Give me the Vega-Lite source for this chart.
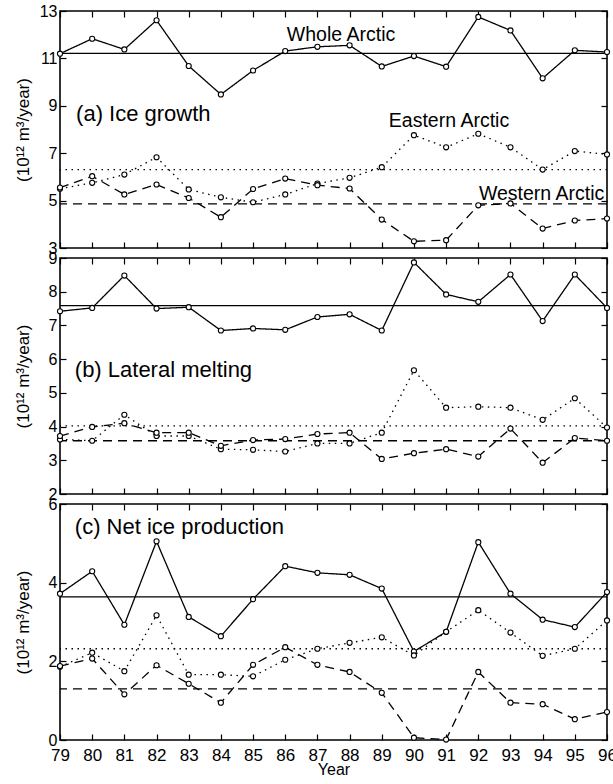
{
  "$schema": "https://vega.github.io/schema/vega-lite/v6.json",
  "background": "white",
  "padding": {"left": 13, "top": 2, "right": 0, "bottom": 0},
  "bounds": "flush",
  "spacing": 10,
  "config": {
    "view": {"stroke": "black", "strokeWidth": 1.6},
    "axis": {
      "domain": false, "grid": false, "tickColor": "black", "tickWidth": 1.2, "tickSize": -6,
      "labelFont": "Liberation Sans", "labelFontSize": 16, "labelColor": "black", "labelPadding": 9,
      "titleFont": "Liberation Sans", "titleFontSize": 17, "titleFontWeight": "normal", "titleColor": "black"
    },
    "axisX": {"labelPadding": 13, "labelFlush": false, "labelFontSize": 17},
    "axisY": {"labelFlush": false},
    "text": {"font": "Liberation Sans"}
  },
  "datasets": {
    "means": [
      {"panel": "a", "series": "Whole", "mean": 11.21},
      {"panel": "a", "series": "Eastern", "mean": 6.31},
      {"panel": "a", "series": "Western", "mean": 4.86},
      {"panel": "b", "series": "Whole", "mean": 7.59},
      {"panel": "b", "series": "Eastern", "mean": 4.02},
      {"panel": "b", "series": "Western", "mean": 3.58},
      {"panel": "c", "series": "Whole", "mean": 3.64},
      {"panel": "c", "series": "Eastern", "mean": 2.32},
      {"panel": "c", "series": "Western", "mean": 1.30}
    ],
    "notes": [
      {"panel": "a", "kind": "panel", "label": "(a) Ice growth", "year": 79.5, "value": 8.64},
      {"panel": "a", "kind": "line", "label": "Whole Arctic", "year": 86.05, "value": 12.0},
      {"panel": "a", "kind": "line", "label": "Eastern Arctic", "year": 89.22, "value": 8.35},
      {"panel": "a", "kind": "line", "label": "Western Arctic", "year": 92.02, "value": 5.28},
      {"panel": "b", "kind": "panel", "label": "(b) Lateral melting", "year": 79.46, "value": 5.68},
      {"panel": "c", "kind": "panel", "label": "(c) Net ice production", "year": 79.46, "value": 5.42}
    ],
    "series": [
      {"panel":"a","series":"Whole","year":79,"value":11.20},{"panel":"a","series":"Whole","year":80,"value":11.83},{"panel":"a","series":"Whole","year":81,"value":11.38},{"panel":"a","series":"Whole","year":82,"value":12.61},{"panel":"a","series":"Whole","year":83,"value":10.68},{"panel":"a","series":"Whole","year":84,"value":9.48},{"panel":"a","series":"Whole","year":85,"value":10.49},{"panel":"a","series":"Whole","year":86,"value":11.31},{"panel":"a","series":"Whole","year":87,"value":11.49},{"panel":"a","series":"Whole","year":88,"value":11.55},{"panel":"a","series":"Whole","year":89,"value":10.66},{"panel":"a","series":"Whole","year":90,"value":11.10},{"panel":"a","series":"Whole","year":91,"value":10.65},{"panel":"a","series":"Whole","year":92,"value":12.75},{"panel":"a","series":"Whole","year":93,"value":12.18},{"panel":"a","series":"Whole","year":94,"value":10.16},{"panel":"a","series":"Whole","year":95,"value":11.34},{"panel":"a","series":"Whole","year":96,"value":11.27},
      {"panel":"a","series":"Eastern","year":79,"value":5.50},{"panel":"a","series":"Eastern","year":80,"value":5.75},{"panel":"a","series":"Eastern","year":81,"value":6.10},{"panel":"a","series":"Eastern","year":82,"value":6.83},{"panel":"a","series":"Eastern","year":83,"value":5.47},{"panel":"a","series":"Eastern","year":84,"value":5.14},{"panel":"a","series":"Eastern","year":85,"value":4.93},{"panel":"a","series":"Eastern","year":86,"value":5.26},{"panel":"a","series":"Eastern","year":87,"value":5.72},{"panel":"a","series":"Eastern","year":88,"value":5.96},{"panel":"a","series":"Eastern","year":89,"value":6.41},{"panel":"a","series":"Eastern","year":90,"value":7.76},{"panel":"a","series":"Eastern","year":91,"value":7.25},{"panel":"a","series":"Eastern","year":92,"value":7.82},{"panel":"a","series":"Eastern","year":93,"value":7.25},{"panel":"a","series":"Eastern","year":94,"value":6.31},{"panel":"a","series":"Eastern","year":95,"value":7.09},{"panel":"a","series":"Eastern","year":96,"value":6.95},
      {"panel":"a","series":"Western","year":79,"value":5.55},{"panel":"a","series":"Western","year":80,"value":6.03},{"panel":"a","series":"Western","year":81,"value":5.26},{"panel":"a","series":"Western","year":82,"value":5.68},{"panel":"a","series":"Western","year":83,"value":5.11},{"panel":"a","series":"Western","year":84,"value":4.30},{"panel":"a","series":"Western","year":85,"value":5.49},{"panel":"a","series":"Western","year":86,"value":5.93},{"panel":"a","series":"Western","year":87,"value":5.65},{"panel":"a","series":"Western","year":88,"value":5.51},{"panel":"a","series":"Western","year":89,"value":4.20},{"panel":"a","series":"Western","year":90,"value":3.28},{"panel":"a","series":"Western","year":91,"value":3.33},{"panel":"a","series":"Western","year":92,"value":4.80},{"panel":"a","series":"Western","year":93,"value":4.88},{"panel":"a","series":"Western","year":94,"value":3.82},{"panel":"a","series":"Western","year":95,"value":4.16},{"panel":"a","series":"Western","year":96,"value":4.24},
      {"panel":"b","series":"Whole","year":79,"value":7.42},{"panel":"b","series":"Whole","year":80,"value":7.52},{"panel":"b","series":"Whole","year":81,"value":8.48},{"panel":"b","series":"Whole","year":82,"value":7.50},{"panel":"b","series":"Whole","year":83,"value":7.54},{"panel":"b","series":"Whole","year":84,"value":6.85},{"panel":"b","series":"Whole","year":85,"value":6.91},{"panel":"b","series":"Whole","year":86,"value":6.87},{"panel":"b","series":"Whole","year":87,"value":7.25},{"panel":"b","series":"Whole","year":88,"value":7.33},{"panel":"b","series":"Whole","year":89,"value":6.85},{"panel":"b","series":"Whole","year":90,"value":8.87},{"panel":"b","series":"Whole","year":91,"value":7.92},{"panel":"b","series":"Whole","year":92,"value":7.70},{"panel":"b","series":"Whole","year":93,"value":8.51},{"panel":"b","series":"Whole","year":94,"value":7.13},{"panel":"b","series":"Whole","year":95,"value":8.51},{"panel":"b","series":"Whole","year":96,"value":7.52},
      {"panel":"b","series":"Eastern","year":79,"value":3.62},{"panel":"b","series":"Eastern","year":80,"value":3.58},{"panel":"b","series":"Eastern","year":81,"value":4.35},{"panel":"b","series":"Eastern","year":82,"value":3.72},{"panel":"b","series":"Eastern","year":83,"value":3.72},{"panel":"b","series":"Eastern","year":84,"value":3.33},{"panel":"b","series":"Eastern","year":85,"value":3.31},{"panel":"b","series":"Eastern","year":86,"value":3.26},{"panel":"b","series":"Eastern","year":87,"value":3.50},{"panel":"b","series":"Eastern","year":88,"value":3.50},{"panel":"b","series":"Eastern","year":89,"value":3.82},{"panel":"b","series":"Eastern","year":90,"value":5.67},{"panel":"b","series":"Eastern","year":91,"value":4.56},{"panel":"b","series":"Eastern","year":92,"value":4.59},{"panel":"b","series":"Eastern","year":93,"value":4.56},{"panel":"b","series":"Eastern","year":94,"value":4.20},{"panel":"b","series":"Eastern","year":95,"value":4.84},{"panel":"b","series":"Eastern","year":96,"value":3.97},
      {"panel":"b","series":"Western","year":79,"value":3.72},{"panel":"b","series":"Western","year":80,"value":3.99},{"panel":"b","series":"Western","year":81,"value":4.10},{"panel":"b","series":"Western","year":82,"value":3.82},{"panel":"b","series":"Western","year":83,"value":3.82},{"panel":"b","series":"Western","year":84,"value":3.43},{"panel":"b","series":"Western","year":85,"value":3.60},{"panel":"b","series":"Western","year":86,"value":3.63},{"panel":"b","series":"Western","year":87,"value":3.78},{"panel":"b","series":"Western","year":88,"value":3.82},{"panel":"b","series":"Western","year":89,"value":3.04},{"panel":"b","series":"Western","year":90,"value":3.21},{"panel":"b","series":"Western","year":91,"value":3.33},{"panel":"b","series":"Western","year":92,"value":3.11},{"panel":"b","series":"Western","year":93,"value":3.94},{"panel":"b","series":"Western","year":94,"value":2.93},{"panel":"b","series":"Western","year":95,"value":3.66},{"panel":"b","series":"Western","year":96,"value":3.58},
      {"panel":"c","series":"Whole","year":79,"value":3.72},{"panel":"c","series":"Whole","year":80,"value":4.29},{"panel":"c","series":"Whole","year":81,"value":2.93},{"panel":"c","series":"Whole","year":82,"value":5.05},{"panel":"c","series":"Whole","year":83,"value":3.13},{"panel":"c","series":"Whole","year":84,"value":2.64},{"panel":"c","series":"Whole","year":85,"value":3.58},{"panel":"c","series":"Whole","year":86,"value":4.42},{"panel":"c","series":"Whole","year":87,"value":4.25},{"panel":"c","series":"Whole","year":88,"value":4.20},{"panel":"c","series":"Whole","year":89,"value":3.85},{"panel":"c","series":"Whole","year":90,"value":2.25},{"panel":"c","series":"Whole","year":91,"value":2.75},{"panel":"c","series":"Whole","year":92,"value":5.03},{"panel":"c","series":"Whole","year":93,"value":3.72},{"panel":"c","series":"Whole","year":94,"value":3.06},{"panel":"c","series":"Whole","year":95,"value":2.87},{"panel":"c","series":"Whole","year":96,"value":3.76},
      {"panel":"c","series":"Eastern","year":79,"value":1.86},{"panel":"c","series":"Eastern","year":80,"value":2.22},{"panel":"c","series":"Eastern","year":81,"value":1.75},{"panel":"c","series":"Eastern","year":82,"value":3.17},{"panel":"c","series":"Eastern","year":83,"value":1.66},{"panel":"c","series":"Eastern","year":84,"value":1.66},{"panel":"c","series":"Eastern","year":85,"value":1.62},{"panel":"c","series":"Eastern","year":86,"value":2.04},{"panel":"c","series":"Eastern","year":87,"value":2.32},{"panel":"c","series":"Eastern","year":88,"value":2.47},{"panel":"c","series":"Eastern","year":89,"value":2.61},{"panel":"c","series":"Eastern","year":90,"value":2.15},{"panel":"c","series":"Eastern","year":91,"value":2.75},{"panel":"c","series":"Eastern","year":92,"value":3.30},{"panel":"c","series":"Eastern","year":93,"value":2.73},{"panel":"c","series":"Eastern","year":94,"value":2.14},{"panel":"c","series":"Eastern","year":95,"value":2.32},{"panel":"c","series":"Eastern","year":96,"value":3.04},
      {"panel":"c","series":"Western","year":79,"value":1.88},{"panel":"c","series":"Western","year":80,"value":2.07},{"panel":"c","series":"Western","year":81,"value":1.16},{"panel":"c","series":"Western","year":82,"value":1.90},{"panel":"c","series":"Western","year":83,"value":1.43},{"panel":"c","series":"Western","year":84,"value":0.95},{"panel":"c","series":"Western","year":85,"value":1.91},{"panel":"c","series":"Western","year":86,"value":2.36},{"panel":"c","series":"Western","year":87,"value":1.91},{"panel":"c","series":"Western","year":88,"value":1.73},{"panel":"c","series":"Western","year":89,"value":1.20},{"panel":"c","series":"Western","year":90,"value":0.06},{"panel":"c","series":"Western","year":91,"value":0.01},{"panel":"c","series":"Western","year":92,"value":1.73},{"panel":"c","series":"Western","year":93,"value":0.95},{"panel":"c","series":"Western","year":94,"value":0.91},{"panel":"c","series":"Western","year":95,"value":0.53},{"panel":"c","series":"Western","year":96,"value":0.71}
    ]
  },
  "vconcat": [
    {
      "width": 547, "height": 237,
      "layer": [
        {"data": {"name": "means"}, "transform": [{"filter": "datum.panel === 'a'"}],
         "mark": {"type": "rule", "color": "black", "strokeWidth": 1.3},
         "encoding": {
           "y": {"field": "mean", "type": "quantitative", "scale": {"domain": [3, 13], "nice": false, "zero": false}, "axis": null},
           "strokeDash": {"field": "series", "type": "nominal", "scale": {"domain": ["Whole", "Eastern", "Western"], "range": [[1, 0], [1.5, 4.5], [9, 6]]}, "legend": null}}},
        {"data": {"name": "series"}, "transform": [{"filter": "datum.panel === 'a'"}],
         "mark": {"type": "line", "color": "black", "strokeWidth": 1.3},
         "encoding": {
           "x": {"field": "year", "type": "quantitative", "scale": {"domain": [79, 96], "nice": false, "zero": false},
                 "axis": {"orient": "bottom", "values": [79,80,81,82,83,84,85,86,87,88,89,90,91,92,93,94,95,96], "labels": false, "title": null}},
           "y": {"field": "value", "type": "quantitative", "scale": {"domain": [3, 13], "nice": false, "zero": false},
                 "axis": {"orient": "left", "values": [3, 5, 7, 9, 11, 13], "title": "(10¹² m³/year)", "titleX": -28}},
           "strokeDash": {"field": "series", "type": "nominal", "scale": {"domain": ["Whole", "Eastern", "Western"], "range": [[1, 0], [1.5, 4.5], [9, 6]]}, "legend": null}}},
        {"data": {"name": "series"}, "transform": [{"filter": "datum.panel === 'a'"}],
         "mark": {"type": "point", "shape": "circle", "filled": true, "fill": "white", "stroke": "black", "strokeWidth": 1.1, "size": 26, "opacity": 1},
         "encoding": {
           "x": {"field": "year", "type": "quantitative", "scale": {"domain": [79, 96], "nice": false, "zero": false},
                 "axis": {"orient": "top", "values": [79,80,81,82,83,84,85,86,87,88,89,90,91,92,93,94,95,96], "labels": false, "title": null}},
           "y": {"field": "value", "type": "quantitative", "scale": {"domain": [3, 13], "nice": false, "zero": false},
                 "axis": {"orient": "right", "values": [3, 5, 7, 9, 11, 13], "labels": false, "title": null}}}},
        {"data": {"name": "notes"}, "transform": [{"filter": "datum.panel === 'a' && datum.kind === 'panel'"}],
         "mark": {"type": "text", "align": "left", "baseline": "middle", "fontSize": 22, "color": "black"},
         "encoding": {
           "x": {"field": "year", "type": "quantitative", "scale": {"domain": [79, 96], "nice": false, "zero": false}, "axis": null},
           "y": {"field": "value", "type": "quantitative", "scale": {"domain": [3, 13], "nice": false, "zero": false}, "axis": null},
           "text": {"field": "label"}}},
        {"data": {"name": "notes"}, "transform": [{"filter": "datum.panel === 'a' && datum.kind === 'line'"}],
         "mark": {"type": "text", "align": "left", "baseline": "middle", "fontSize": 19.5, "color": "black"},
         "encoding": {
           "x": {"field": "year", "type": "quantitative", "scale": {"domain": [79, 96], "nice": false, "zero": false}, "axis": null},
           "y": {"field": "value", "type": "quantitative", "scale": {"domain": [3, 13], "nice": false, "zero": false}, "axis": null},
           "text": {"field": "label"}}}
      ]
    },
    {
      "width": 547, "height": 236,
      "layer": [
        {"data": {"name": "means"}, "transform": [{"filter": "datum.panel === 'b'"}],
         "mark": {"type": "rule", "color": "black", "strokeWidth": 1.3},
         "encoding": {
           "y": {"field": "mean", "type": "quantitative", "scale": {"domain": [2, 9], "nice": false, "zero": false}, "axis": null},
           "strokeDash": {"field": "series", "type": "nominal", "scale": {"domain": ["Whole", "Eastern", "Western"], "range": [[1, 0], [1.5, 4.5], [9, 6]]}, "legend": null}}},
        {"data": {"name": "series"}, "transform": [{"filter": "datum.panel === 'b'"}],
         "mark": {"type": "line", "color": "black", "strokeWidth": 1.3},
         "encoding": {
           "x": {"field": "year", "type": "quantitative", "scale": {"domain": [79, 96], "nice": false, "zero": false},
                 "axis": {"orient": "bottom", "values": [79,80,81,82,83,84,85,86,87,88,89,90,91,92,93,94,95,96], "labels": false, "title": null}},
           "y": {"field": "value", "type": "quantitative", "scale": {"domain": [2, 9], "nice": false, "zero": false},
                 "axis": {"orient": "left", "values": [2, 3, 4, 5, 6, 7, 8, 9], "title": "(10¹² m³/year)", "titleX": -28}},
           "strokeDash": {"field": "series", "type": "nominal", "scale": {"domain": ["Whole", "Eastern", "Western"], "range": [[1, 0], [1.5, 4.5], [9, 6]]}, "legend": null}}},
        {"data": {"name": "series"}, "transform": [{"filter": "datum.panel === 'b'"}],
         "mark": {"type": "point", "shape": "circle", "filled": true, "fill": "white", "stroke": "black", "strokeWidth": 1.1, "size": 26, "opacity": 1},
         "encoding": {
           "x": {"field": "year", "type": "quantitative", "scale": {"domain": [79, 96], "nice": false, "zero": false},
                 "axis": {"orient": "top", "values": [79,80,81,82,83,84,85,86,87,88,89,90,91,92,93,94,95,96], "labels": false, "title": null}},
           "y": {"field": "value", "type": "quantitative", "scale": {"domain": [2, 9], "nice": false, "zero": false},
                 "axis": {"orient": "right", "values": [2, 3, 4, 5, 6, 7, 8, 9], "labels": false, "title": null}}}},
        {"data": {"name": "notes"}, "transform": [{"filter": "datum.panel === 'b'"}],
         "mark": {"type": "text", "align": "left", "baseline": "middle", "fontSize": 22, "color": "black"},
         "encoding": {
           "x": {"field": "year", "type": "quantitative", "scale": {"domain": [79, 96], "nice": false, "zero": false}, "axis": null},
           "y": {"field": "value", "type": "quantitative", "scale": {"domain": [2, 9], "nice": false, "zero": false}, "axis": null},
           "text": {"field": "label"}}}
      ]
    },
    {
      "width": 547, "height": 236,
      "layer": [
        {"data": {"name": "means"}, "transform": [{"filter": "datum.panel === 'c'"}],
         "mark": {"type": "rule", "color": "black", "strokeWidth": 1.3},
         "encoding": {
           "y": {"field": "mean", "type": "quantitative", "scale": {"domain": [0, 6], "nice": false, "zero": false}, "axis": null},
           "strokeDash": {"field": "series", "type": "nominal", "scale": {"domain": ["Whole", "Eastern", "Western"], "range": [[1, 0], [1.5, 4.5], [9, 6]]}, "legend": null}}},
        {"data": {"name": "series"}, "transform": [{"filter": "datum.panel === 'c'"}],
         "mark": {"type": "line", "color": "black", "strokeWidth": 1.3},
         "encoding": {
           "x": {"field": "year", "type": "quantitative", "scale": {"domain": [79, 96], "nice": false, "zero": false},
                 "axis": {"orient": "bottom", "values": [79,80,81,82,83,84,85,86,87,88,89,90,91,92,93,94,95,96], "format": "d", "title": "Year", "titleFontSize": 16, "titlePadding": -2}},
           "y": {"field": "value", "type": "quantitative", "scale": {"domain": [0, 6], "nice": false, "zero": false},
                 "axis": {"orient": "left", "values": [0, 2, 4, 6], "title": "(10¹² m³/year)", "titleX": -28}},
           "strokeDash": {"field": "series", "type": "nominal", "scale": {"domain": ["Whole", "Eastern", "Western"], "range": [[1, 0], [1.5, 4.5], [9, 6]]}, "legend": null}}},
        {"data": {"name": "series"}, "transform": [{"filter": "datum.panel === 'c'"}],
         "mark": {"type": "point", "shape": "circle", "filled": true, "fill": "white", "stroke": "black", "strokeWidth": 1.1, "size": 26, "opacity": 1},
         "encoding": {
           "x": {"field": "year", "type": "quantitative", "scale": {"domain": [79, 96], "nice": false, "zero": false},
                 "axis": {"orient": "top", "values": [79,80,81,82,83,84,85,86,87,88,89,90,91,92,93,94,95,96], "labels": false, "title": null}},
           "y": {"field": "value", "type": "quantitative", "scale": {"domain": [0, 6], "nice": false, "zero": false},
                 "axis": {"orient": "right", "values": [0, 2, 4, 6], "labels": false, "title": null}}}},
        {"data": {"name": "notes"}, "transform": [{"filter": "datum.panel === 'c'"}],
         "mark": {"type": "text", "align": "left", "baseline": "middle", "fontSize": 22, "color": "black"},
         "encoding": {
           "x": {"field": "year", "type": "quantitative", "scale": {"domain": [79, 96], "nice": false, "zero": false}, "axis": null},
           "y": {"field": "value", "type": "quantitative", "scale": {"domain": [0, 6], "nice": false, "zero": false}, "axis": null},
           "text": {"field": "label"}}}
      ]
    }
  ]
}
